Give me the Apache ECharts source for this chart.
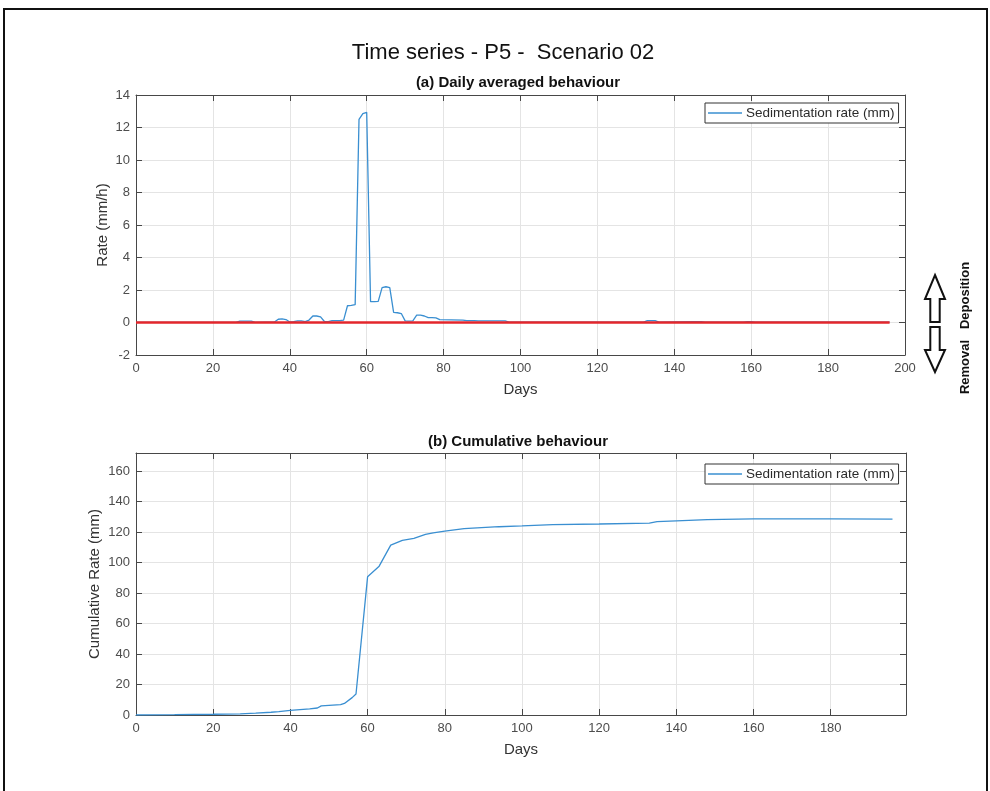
<!DOCTYPE html>
<html>
<head>
<meta charset="utf-8">
<script src="https://cdn.jsdelivr.net/npm/echarts@6/dist/echarts.min.js"></script>
<style>
  html, body { margin: 0; padding: 0; background: #ffffff; }
  #chart { width: 990px; height: 791px; }
</style>
</head>
<body>
<div id="chart"></div>
<script>
// Daily averaged sedimentation rate (mm/h) at P5, scenario 02
const rateDays = [0, 26, 27, 30, 31, 36, 37, 38, 39, 40, 41, 42, 43, 44, 45, 46, 47, 48, 49, 50,
  51, 52, 53, 54, 55, 56, 57, 58, 59, 60, 61, 62, 63, 64, 65, 66, 67, 68, 69, 70,
  71, 72, 73, 74, 75, 76, 77, 78, 79, 85, 86, 88, 89, 96, 97, 132, 133, 135, 136,
  145, 147, 148, 158, 159, 160, 161, 196];
const rateValues = [0.01, 0.01, 0.08, 0.08, 0.01, 0.03, 0.2, 0.22, 0.18, 0.03, 0.05, 0.1, 0.1, 0.06, 0.15, 0.4, 0.4, 0.35, 0.06, 0.06,
  0.12, 0.12, 0.12, 0.15, 1.03, 1.05, 1.1, 12.5, 12.85, 12.93, 1.28, 1.28, 1.3, 2.15, 2.2, 2.15, 0.62, 0.6, 0.55, 0.1,
  0.08, 0.1, 0.45, 0.45, 0.4, 0.3, 0.3, 0.28, 0.18, 0.15, 0.12, 0.12, 0.1, 0.1, 0.02, 0.02, 0.12, 0.12, 0.02,
  0.05, 0.05, 0.02, 0.02, 0.05, 0.05, 0.02, 0.02];

// Reference line separating deposition (above) from removal (below)
const zeroLineDays = [0, 196];
const zeroLineValues = [0, 0];

// Cumulative sedimentation (mm)
const cumDays = [0, 10, 20, 27, 31, 35, 37, 40, 45, 47, 48, 53, 54, 56, 57, 60, 63, 66, 69, 72,
  75, 77, 80, 85, 94, 100, 108, 120, 133, 135, 140, 148, 160, 180, 196];
const cumValues = [0, 0.2, 0.5, 0.8, 1.2, 1.8, 2.2, 3, 4, 4.6, 6, 6.8, 7.6, 11.4, 13.8, 90.7, 97.7, 111.5, 114.6, 116,
  118.6, 119.6, 120.7, 122.3, 123.6, 124.1, 125, 125.4, 126, 126.9, 127.5, 128.2, 128.8, 128.8, 128.6];

// Tick labels
const dayTicksA = [0, 20, 40, 60, 80, 100, 120, 140, 160, 180, 200];
const dayTicksB = [0, 20, 40, 60, 80, 100, 120, 140, 160, 180];
const rateTicks = [-2, 0, 2, 4, 6, 8, 10, 12, 14];
const cumTicks = [0, 20, 40, 60, 80, 100, 120, 140, 160];

const seriesName = 'Sedimentation rate (mm)';
const FONT = '"Liberation Sans", Arial, Helvetica, sans-serif';
const AXIS_COLOR = '#474747';
const LABEL_COLOR = '#4d4d4d';
const GRID_COLOR = '#e4e4e4';
const BLUE = '#3a8fd1';

function pairs(xs, ys) { return xs.map((x, i) => [x, ys[i]]); }

function onlyTicks(list) {
  return v => (list.indexOf(Math.round(v * 1000) / 1000) >= 0 ? String(v) : '');
}

function xAxes(gridIndex, ticks, max, name) {
  const base = {
    type: 'value', gridIndex: gridIndex, min: ticks[0], max: max, interval: ticks[1] - ticks[0],
    axisLine: { show: true, onZero: false, lineStyle: { color: AXIS_COLOR, width: 1 } },
    axisTick: { show: true, inside: true, length: 6, lineStyle: { color: AXIS_COLOR } }
  };
  return [
    Object.assign({}, base, {
      position: 'bottom',
      axisLabel: { color: LABEL_COLOR, fontSize: 13, fontFamily: FONT, margin: 7, formatter: onlyTicks(ticks), showMaxLabel: max === ticks[ticks.length - 1] },
      splitLine: { show: true, lineStyle: { color: GRID_COLOR, width: 1 } },
      name: name, nameLocation: 'middle', nameGap: 27, nameMoveOverlap: false,
      nameTextStyle: { color: '#333', fontSize: 15, fontFamily: FONT }
    }),
    Object.assign({}, base, {
      position: 'top', axisLabel: { show: false }, splitLine: { show: false }
    })
  ];
}

function yAxes(gridIndex, ticks, max, name, gap) {
  const base = {
    type: 'value', gridIndex: gridIndex, min: ticks[0], max: max, interval: ticks[1] - ticks[0],
    axisLine: { show: true, onZero: false, lineStyle: { color: AXIS_COLOR, width: 1 } },
    axisTick: { show: true, inside: true, length: 6, lineStyle: { color: AXIS_COLOR } }
  };
  return [
    Object.assign({}, base, {
      position: 'left',
      axisLabel: { color: LABEL_COLOR, fontSize: 13, fontFamily: FONT, margin: 6, formatter: onlyTicks(ticks), showMaxLabel: max === ticks[ticks.length - 1] },
      splitLine: { show: true, lineStyle: { color: GRID_COLOR, width: 1 } },
      name: name, nameLocation: 'middle', nameGap: gap, nameRotate: 90, nameMoveOverlap: false,
      nameTextStyle: { color: '#333', fontSize: 15, fontFamily: FONT }
    }),
    Object.assign({}, base, {
      position: 'right', axisLabel: { show: false }, splitLine: { show: false }
    })
  ];
}

const xA = xAxes(0, dayTicksA, 200, 'Days');
const xB = xAxes(1, dayTicksB, 199.5, 'Days');
const yA = yAxes(0, rateTicks, 14, 'Rate (mm/h)', 26);
const yB = yAxes(1, cumTicks, 172, 'Cumulative Rate (mm)', 34);

function legendAt(left, top) {
  return {
    left: left, top: top, orient: 'horizontal', selectedMode: false,
    data: [seriesName],
    icon: 'rect', itemWidth: 34, itemHeight: 1.5, itemGap: 4,
    padding: [3, 4, 3, 3],
    backgroundColor: '#ffffff', borderColor: '#333333', borderWidth: 1,
    textStyle: { color: '#2b2b2b', fontSize: 13.5, fontFamily: FONT, padding: [0, 0, 0, -1] }
  };
}

function arrow(cx, tipY, headY, endY) {
  const hw = 10, sw = 4.7;
  return {
    type: 'polygon',
    shape: { points: [[cx, tipY], [cx + hw, headY], [cx + sw, headY], [cx + sw, endY], [cx - sw, endY], [cx - sw, headY], [cx - hw, headY]] },
    style: { fill: '#ffffff', stroke: '#111111', lineWidth: 2 }
  };
}

function label(text, x, y, font) {
  return { type: 'text', x: x, y: y, silent: true,
    style: { text: text, fill: '#111', font: font, align: 'center', verticalAlign: 'middle' } };
}

const chart = echarts.init(document.getElementById('chart'), null, { renderer: 'canvas' });
chart.setOption({
  animation: false,
  backgroundColor: '#ffffff',
  grid: [
    { left: 136, top: 95, width: 769, height: 260, show: false },
    { left: 136, top: 453, width: 770, height: 262, show: false }
  ],
  xAxis: [xA[0], xA[1], xB[0], xB[1]],
  yAxis: [yA[0], yA[1], yB[0], yB[1]],
  legend: [legendAt(705, 103), legendAt(705, 464)],
  series: [
    { name: seriesName, type: 'line', xAxisIndex: 0, yAxisIndex: 0, data: pairs(rateDays, rateValues),
      symbol: 'none', lineStyle: { color: BLUE, width: 1.3 }, itemStyle: { color: BLUE }, z: 3 },
    { name: 'zero', type: 'line', xAxisIndex: 0, yAxisIndex: 0, data: pairs(zeroLineDays, zeroLineValues),
      symbol: 'none', lineStyle: { color: '#e3262b', width: 2.5 }, itemStyle: { color: '#e3262b' }, z: 4 },
    { name: seriesName, type: 'line', xAxisIndex: 2, yAxisIndex: 2, data: pairs(cumDays, cumValues),
      symbol: 'none', lineStyle: { color: BLUE, width: 1.3 }, itemStyle: { color: BLUE }, z: 3 }
  ],
  graphic: [
    { type: 'rect', shape: { x: 4, y: 9, width: 983, height: 800 },
      style: { fill: 'none', stroke: '#111111', lineWidth: 2 }, silent: true },
    label('Time series - P5 -  Scenario 02', 503, 53, '22px ' + FONT),
    label('(a) Daily averaged behaviour', 518, 83, 'bold 15px ' + FONT),
    label('(b) Cumulative behaviour', 518, 442, 'bold 15px ' + FONT),
    arrow(935, 275, 299, 322),
    arrow(935, 372, 350, 327),
    { type: 'text', x: 965, y: 328, rotation: Math.PI / 2, silent: true,
      style: { text: 'Removal   Deposition', fill: '#111', font: 'bold 13px ' + FONT, align: 'center', verticalAlign: 'middle' } }
  ]
});
</script>
</body>
</html>
